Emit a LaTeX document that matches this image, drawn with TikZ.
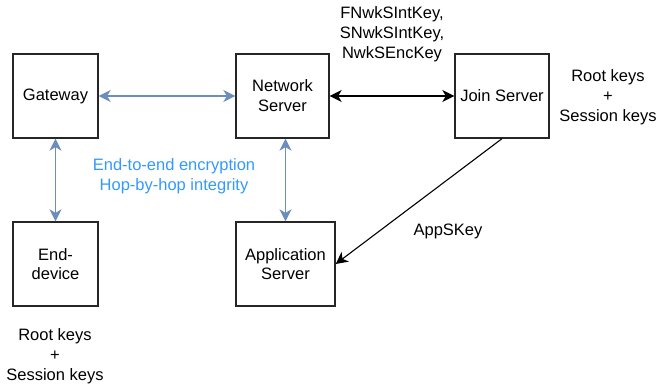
\documentclass[tikz,border=0pt]{standalone}
\usepackage{fontspec}
\setmainfont{Liberation Sans}
\usetikzlibrary{arrows.meta}
\definecolor{linkblue}{HTML}{6C8EBF}
\definecolor{textblue}{HTML}{3399FF}
\tikzset{
  tip/.tip={Stealth[length=12pt,width=12pt,inset=3.5pt]},
  box/.style={draw=black!85, line width=1.3pt, minimum height=84pt, inner sep=0pt, align=center, font=\fontsize{16.5}{19.8}\selectfont},
  lbl/.style={inner sep=0pt, align=center, font=\fontsize{16.5}{19.8}\selectfont},
  bluelink/.style={draw=linkblue, line width=1.6pt, {tip}-{tip}},
  blacklink/.style={draw=black, line width=1.5pt, {tip}-{tip}},
  onelink/.style={draw=black, line width=1.1pt, -{tip}}
}
\begin{document}
\begin{tikzpicture}[x=1pt,y=-1pt]
\useasboundingbox (0,0) rectangle (660,390);
\node[box, minimum width=85pt] (gw) at (55.5,96) {Gateway};
\node[box, minimum width=93pt] (ns) at (282.5,96) {Network\\Server};
\node[box, minimum width=94pt] (js) at (502,96) {Join Server};
\node[box, minimum width=85pt] (ed) at (55.5,264) {End-\\device};
\node[box, minimum width=99pt] (as) at (285.5,264) {Application\\Server};

\node[lbl] (nwkkeys) at (392,34) {FNwkSIntKey,\\SNwkSIntKey,\\NwkSEncKey};
\node[lbl] (jskeys) at (608,97) {Root keys\\+\\Session keys};
\node[lbl] (edkeys) at (55,356) {Root keys\\+\\Session keys};
\node[lbl, text=textblue] (e2e) at (174,176) {End-to-end encryption\\Hop-by-hop integrity};
\node[lbl] (appskey) at (448,231) {AppSKey};

\draw[bluelink] (gw.east) -- (ns.west);
\draw[bluelink] (gw.south) -- (ed.north);
\draw[bluelink] (as.north |- ns.south) -- (as.north);
\draw[blacklink] (ns.east) -- (js.west);
\draw[onelink] (js.south) -- (as.east);
\end{tikzpicture}
\end{document}
